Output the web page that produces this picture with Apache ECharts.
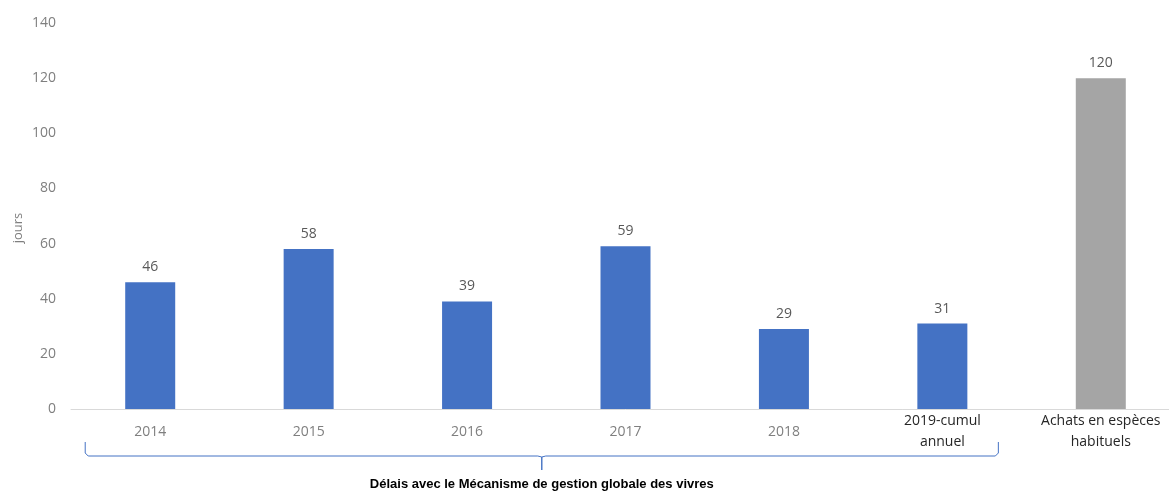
<!DOCTYPE html>
<html><head><meta charset="utf-8">
<script src="https://cdn.jsdelivr.net/npm/echarts@6/dist/echarts.min.js"></script>
<style>html,body{margin:0;padding:0;background:#fff;overflow:hidden}#c{width:1190px;height:493px}</style>
</head><body><div id="c"></div>
<script>
const categories = ['2014','2015','2016','2017','2018','2019-cumul\nannuel','Achats en espèces\nhabituels'];
const values = [46, 58, 39, 59, 29, 31, 120];
const barColors = ['#4472c4','#4472c4','#4472c4','#4472c4','#4472c4','#4472c4','#a5a5a5'];
const darkLabels = [false,false,false,false,false,true,true];
const yTicks = {min:0, max:140, interval:20};
const axisTitle = 'jours';
const braceText = 'Délais avec le Mécanisme de gestion globale des vivres';

(function(){
const font = '"Open Sans", "Noto Sans", sans-serif';
const chart = echarts.init(document.getElementById('c'));
const option = {
  animation:false,
  grid:{left:71, top:23, right:10, height:386, containLabel:false},
  xAxis:{
    type:'category',
    data: categories.map((c,i)=>({value:c, textStyle: darkLabels[i]
      ? {color:'#262626', backgroundColor:'#fff', verticalAlign:'middle', lineHeight:21}
      : {verticalAlign:'middle'}})),
    axisLine:{lineStyle:{color:'#d9d9d9'}},
    axisTick:{show:false},
    axisLabel:{color:'#7f7f7f', fontSize:14, fontFamily:font, margin:23, lineHeight:21, interval:0, verticalAlign:'middle'}
  },
  yAxis:{
    type:'value', min:yTicks.min, max:yTicks.max, interval:yTicks.interval,
    splitLine:{show:false},
    axisLine:{show:false}, axisTick:{show:false},
    axisLabel:{color:'#7f7f7f', fontSize:14, fontFamily:font, margin:15}
  },
  series:[{
    type:'bar', barWidth:50,
    data: values.map((v,i)=>({value:v, itemStyle:{color:barColors[i]}})),
    label:{show:true, position:'top', distance:8, color:'#595959', fontSize:14, fontFamily:font}
  }]
};
chart.setOption(option);

const x0 = chart.convertToPixel({xAxisIndex:0}, categories[0]);
const x5 = chart.convertToPixel({xAxisIndex:0}, categories[5]);
const yb = chart.convertToPixel({yAxisIndex:0}, 0);
const L = x0 - 65, R = x5 + 56, mid = (L + R)/2;
const yTop = yb + 33, yLine = yb + 47, yTip = yb + 61;
const c = '#4472c4';
chart.setOption({graphic:[
  {type:'polyline', z:1, shape:{points:[[L,yTop],[L,yLine-3],[L+3,yLine],[mid-4,yLine],[mid,yLine+1],[mid,yTip]]}, style:{stroke:c, lineWidth:1, fill:null}},
  {type:'polyline', z:1, shape:{points:[[mid,yTip],[mid,yLine+1],[mid+4,yLine],[R-3,yLine],[R,yLine-3],[R,yTop]]}, style:{stroke:c, lineWidth:1, fill:null}},
  {type:'text', x:mid, y:yb+75, style:{text:braceText, fill:'#000', font:'bold 13px "Liberation Sans", sans-serif', textAlign:'center', textVerticalAlign:'middle'}},
  {type:'text', x:18, y:228, rotation:Math.PI/2, style:{text:axisTitle, fill:'#7f7f7f', font:'13px "Open Sans", sans-serif', textAlign:'center', textVerticalAlign:'middle'}}
]});
})();
</script></body></html>
